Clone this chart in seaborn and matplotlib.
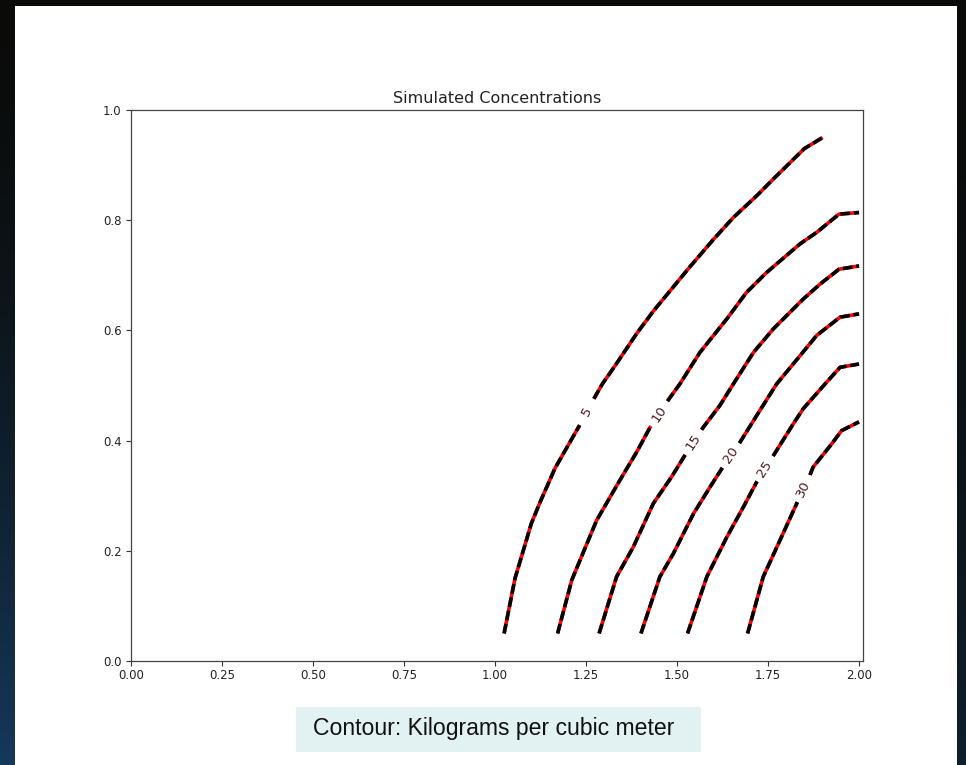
import numpy as np
import matplotlib
matplotlib.use("Agg")
import matplotlib.pyplot as plt
from matplotlib.patches import Rectangle
import pandas as pd
import seaborn as sns

# ---- contour levels and their iso-lines (x, y in model units) ----
levels = [5, 10, 15, 20, 25, 30]

x_05 = [1.025, 1.055, 1.100, 1.125, 1.165, 1.230, 1.270, 1.295, 1.330, 1.390,
        1.435, 1.485, 1.535, 1.600, 1.655, 1.720, 1.765, 1.850, 1.900]
y_05 = [0.050, 0.150, 0.250, 0.290, 0.350, 0.425, 0.474, 0.503, 0.536, 0.595,
        0.635, 0.675, 0.715, 0.765, 0.805, 0.845, 0.875, 0.930, 0.950]

x_10 = [1.172, 1.211, 1.279, 1.343, 1.389, 1.426, 1.472, 1.508, 1.563, 1.637,
        1.691, 1.746, 1.838, 1.884, 1.945, 2.000]
y_10 = [0.050, 0.147, 0.255, 0.328, 0.379, 0.424, 0.470, 0.503, 0.560, 0.621,
        0.669, 0.705, 0.757, 0.778, 0.811, 0.814]

x_15 = [1.286, 1.334, 1.380, 1.435, 1.485, 1.527, 1.572, 1.618, 1.655, 1.710,
        1.765, 1.847, 1.893, 1.945, 2.000]
y_15 = [0.050, 0.153, 0.207, 0.286, 0.334, 0.379, 0.424, 0.464, 0.503, 0.560,
        0.603, 0.657, 0.684, 0.711, 0.717]

x_20 = [1.401, 1.453, 1.490, 1.545, 1.591, 1.623, 1.673, 1.728, 1.774, 1.838,
        1.884, 1.948, 2.000]
y_20 = [0.050, 0.153, 0.195, 0.267, 0.316, 0.349, 0.397, 0.455, 0.503, 0.554,
        0.591, 0.624, 0.630]

x_25 = [1.529, 1.582, 1.637, 1.682, 1.719, 1.765, 1.820, 1.847, 1.907, 1.948,
        2.000]
y_25 = [0.050, 0.153, 0.225, 0.279, 0.325, 0.373, 0.431, 0.458, 0.503, 0.533,
        0.539]

x_30 = [1.694, 1.737, 1.787, 1.829, 1.865, 1.874, 1.925, 1.952, 2.000]
y_30 = [0.050, 0.153, 0.225, 0.286, 0.337, 0.352, 0.394, 0.418, 0.434]

contour_x = [x_05, x_10, x_15, x_20, x_25, x_30]
contour_y = [y_05, y_10, y_15, y_20, y_25, y_30]

# height along each iso-line where its value label sits
label_y = [0.452, 0.449, 0.397, 0.373, 0.349, 0.313]

title = "Simulated Concentrations"
caption = "Contour: Kilograms per cubic meter"
xticks = [0.0, 0.25, 0.5, 0.75, 1.0, 1.25, 1.5, 1.75, 2.0]
xticklabels = ["0.00", "0.25", "0.50", "0.75", "1.00", "1.25", "1.50", "1.75", "2.00"]
yticks = [0.0, 0.2, 0.4, 0.6, 0.8, 1.0]
yticklabels = ["0.0", "0.2", "0.4", "0.6", "0.8", "1.0"]

# ---- styling ----
sns.set_theme(style="ticks")
plt.rcParams["font.family"] = ["DejaVu Sans"]

W, H = 966, 765
fig = plt.figure(figsize=(W / 100, H / 100), dpi=100)

# dark slide backdrop with a soft blue glow towards the bottom-left
bg = fig.add_axes([0, 0, 1, 1], zorder=-10)
t = np.linspace(0, 1, 200)[:, None]
u = np.linspace(0, 1, 240)[None, :]
top = np.array([10, 11, 9]) / 255.0
bottom = np.array([22, 56, 90]) / 255.0
w = (t ** 1.6) * (1.0 - 0.55 * u)
grad = top[None, None, :] + (bottom - top)[None, None, :] * w[:, :, None]
bg.imshow(grad, extent=[0, 1, 0, 1], aspect="auto", origin="upper")
bg.set_axis_off()

# white slide panel
fig.patches.append(Rectangle((15 / W, 0), (957 - 15) / W, (765 - 6) / H,
                             transform=fig.transFigure, facecolor="white",
                             edgecolor="none", zorder=-5))

# caption box
fig.patches.append(Rectangle((296 / W, 1 - 752 / H), (701 - 296) / W, 45 / H,
                             transform=fig.transFigure, facecolor="#e2f1f2",
                             edgecolor="none", zorder=-4))
fig.text(313 / W, 1 - 729 / H, caption, ha="left", va="center",
         fontsize=16.6, family=["Liberation Sans", "DejaVu Sans"], color="#111111")

# ---- main axes ----
ax = fig.add_axes([131 / W, 1 - 661 / H, (863 - 131) / W, (661 - 110) / H])
ax.set_facecolor("white")
ax.set_xlim(0, 2.011)
ax.set_ylim(0, 1.0)
ax.set_xticks(xticks)
ax.set_xticklabels(xticklabels)
ax.set_yticks(yticks)
ax.set_yticklabels(yticklabels)
ax.tick_params(labelsize=8.5, length=3.5, width=0.8, colors="#333333",
               labelcolor="#222222")
ax.tick_params(axis="y", pad=3.2)
ax.tick_params(axis="x", pad=2)
for sp in ax.spines.values():
    sp.set_linewidth(0.9)
    sp.set_color("#444444")
ax.set_title(title, fontsize=11.5, color="#222222", pad=5)

label_color = "#4f1820"
gap_px = 15.0
to_disp = ax.transData
to_data = ax.transData.inverted()

for lev, xs, ys, ly in zip(levels, contour_x, contour_y, label_y):
    xs = np.asarray(xs, float)
    ys = np.asarray(ys, float)
    pts = to_disp.transform(np.column_stack([xs, ys]))
    seg = np.hypot(*np.diff(pts, axis=0).T)
    s = np.concatenate([[0.0], np.cumsum(seg)])
    s_lab = np.interp(ly, ys, s)
    lx = np.interp(ly, ys, xs)

    # break the line around the label
    s_a, s_b = s_lab - gap_px, s_lab + gap_px
    pa = np.array([np.interp(s_a, s, pts[:, 0]), np.interp(s_a, s, pts[:, 1])])
    pb = np.array([np.interp(s_b, s, pts[:, 0]), np.interp(s_b, s, pts[:, 1])])
    part1 = np.vstack([pts[s < s_a], pa])
    part2 = np.vstack([pb, pts[s > s_b]])

    for part in (part1, part2):
        d = to_data.transform(part)
        df = pd.DataFrame({"x": d[:, 0], "y": d[:, 1]})
        sns.lineplot(data=df, x="x", y="y", sort=False, estimator=None,
                     color="#ff0000", lw=2.6, ax=ax, solid_capstyle="butt")
        sns.lineplot(data=df, x="x", y="y", sort=False, estimator=None,
                     color="black", lw=2.6, ax=ax)
        ax.lines[-1].set_linestyle((0, (2.7, 1.05)))
        ax.lines[-1].set_dash_capstyle("butt")

    ang = np.degrees(np.arctan2(pb[1] - pa[1], pb[0] - pa[0]))
    if ang > 90:
        ang -= 180
    elif ang < -90:
        ang += 180
    ax.text(lx, ly, str(lev), rotation=ang, rotation_mode="anchor",
            ha="center", va="center", fontsize=9.5, color=label_color, zorder=5)

ax.set_xlabel("")
ax.set_ylabel("")
fig.savefig("out.png", dpi=100)
